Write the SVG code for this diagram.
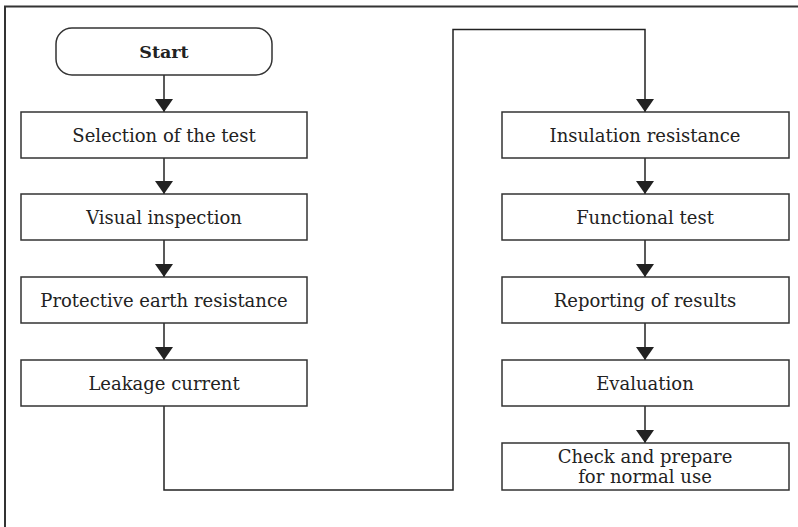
<svg xmlns="http://www.w3.org/2000/svg" width="798" height="527" viewBox="0 0 798 527">
<defs>
<marker id="ah" viewBox="0 0 13 18" refX="13" refY="9" markerWidth="13" markerHeight="18" markerUnits="userSpaceOnUse" orient="auto">
<path d="M0,0 L13,9 L0,18 Z" fill="#222"/>
</marker>
<style>
.box{fill:#fff;stroke:#333;stroke-width:1.5}
.t{font-family:"DejaVu Serif","Liberation Serif",serif;font-size:18px;fill:#222;text-anchor:middle}
.b{font-weight:bold;font-size:17.5px}
.c{fill:none;stroke:#222;stroke-width:1.5}
</style>
</defs>
<rect width="798" height="527" fill="#fff"/>
<path d="M5,527 L5,6.5 L798,6.5" fill="none" stroke="#333" stroke-width="2"/>
<g id="connectors">
<line class="c" x1="164" y1="75" x2="164" y2="112" marker-end="url(#ah)"/>
<line class="c" x1="164" y1="158" x2="164" y2="194" marker-end="url(#ah)"/>
<line class="c" x1="164" y1="240" x2="164" y2="277" marker-end="url(#ah)"/>
<line class="c" x1="164" y1="323" x2="164" y2="360" marker-end="url(#ah)"/>
<path class="c" d="M164,406 L164,490 L453,490 L453,29.5 L645,29.5 L645,112" marker-end="url(#ah)"/>
<line class="c" x1="645" y1="158" x2="645" y2="194" marker-end="url(#ah)"/>
<line class="c" x1="645" y1="240" x2="645" y2="277" marker-end="url(#ah)"/>
<line class="c" x1="645" y1="323" x2="645" y2="360" marker-end="url(#ah)"/>
<line class="c" x1="645" y1="406" x2="645" y2="443" marker-end="url(#ah)"/>
</g>
<g id="start">
<rect class="box" x="56" y="28" width="216" height="47" rx="16"/>
<text class="t b" x="164" y="57.5">Start</text>
</g>
<g id="selection">
<rect class="box" x="21" y="112" width="286" height="46"/>
<text class="t" x="164" y="142">Selection of the test</text>
</g>
<g id="visual">
<rect class="box" x="21" y="194" width="286" height="46"/>
<text class="t" x="164" y="224">Visual inspection</text>
</g>
<g id="protective">
<rect class="box" x="21" y="277" width="286" height="46"/>
<text class="t" x="164" y="307">Protective earth resistance</text>
</g>
<g id="leakage">
<rect class="box" x="21" y="360" width="286" height="46"/>
<text class="t" x="164" y="390">Leakage current</text>
</g>
<g id="insulation">
<rect class="box" x="502" y="112" width="287" height="46"/>
<text class="t" x="645" y="142">Insulation resistance</text>
</g>
<g id="functional">
<rect class="box" x="502" y="194" width="287" height="46"/>
<text class="t" x="645" y="224">Functional test</text>
</g>
<g id="reporting">
<rect class="box" x="502" y="277" width="287" height="46"/>
<text class="t" x="645" y="307">Reporting of results</text>
</g>
<g id="evaluation">
<rect class="box" x="502" y="360" width="287" height="46"/>
<text class="t" x="645" y="390">Evaluation</text>
</g>
<g id="check">
<rect class="box" x="502" y="443" width="287" height="47"/>
<text class="t" x="645" y="463">Check and prepare</text>
<text class="t" x="645" y="483">for normal use</text>
</g>
</svg>
